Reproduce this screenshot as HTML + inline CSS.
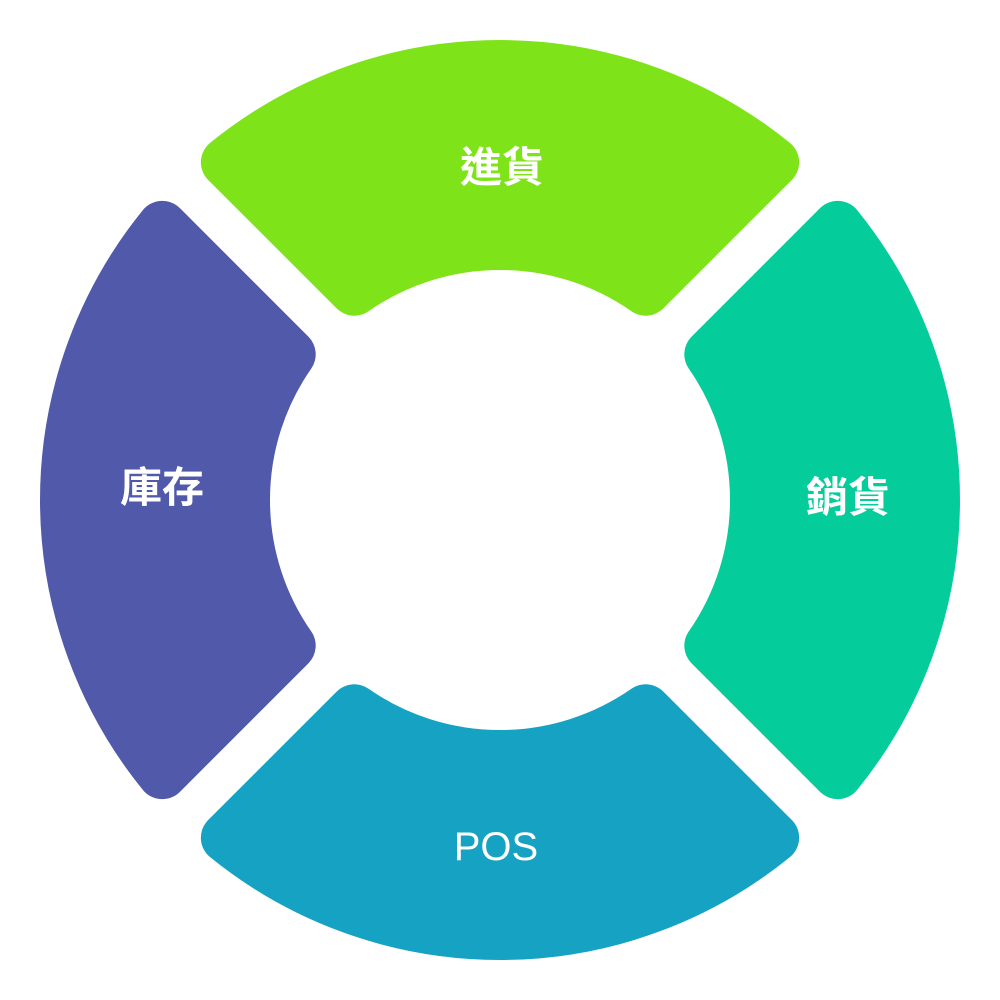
<!DOCTYPE html>
<html>
<head>
<meta charset="utf-8">
<style>
  html,body{margin:0;padding:0;background:#fff;}
  svg{display:block;}
  text{font-family:"Liberation Sans","Noto Sans CJK TC",sans-serif;fill:#fff;}
</style>
</head>
<body>
<svg width="1000" height="1000" viewBox="0 0 1000 1000" xmlns="http://www.w3.org/2000/svg">
  <defs>
    <path id="seg" d="M 225.86 162.26 A 435 435 0 0 1 774.14 162.26 L 645.69 290.71 A 255 255 0 0 0 354.31 290.71 Z" stroke-width="50" stroke-linejoin="round"/>
  </defs>
  <use href="#seg" fill="#7fe31a" stroke="#7fe31a"/>
  <use href="#seg" fill="#04cc9b" stroke="#04cc9b" transform="rotate(90 500 500)"/>
  <use href="#seg" fill="#16a2c2" stroke="#16a2c2" transform="rotate(180 500 500)"/>
  <use href="#seg" fill="#5159aa" stroke="#5159aa" transform="rotate(270 500 500)"/>
  <text x="502" y="182" font-size="42" font-weight="bold" text-anchor="middle">進貨</text>
  <text x="848" y="512" font-size="42" font-weight="bold" text-anchor="middle">銷貨</text>
  <text x="496" y="860" font-size="40" text-anchor="middle">POS</text>
  <text x="162" y="502" font-size="42" font-weight="bold" text-anchor="middle">庫存</text>
</svg>
</body>
</html>
